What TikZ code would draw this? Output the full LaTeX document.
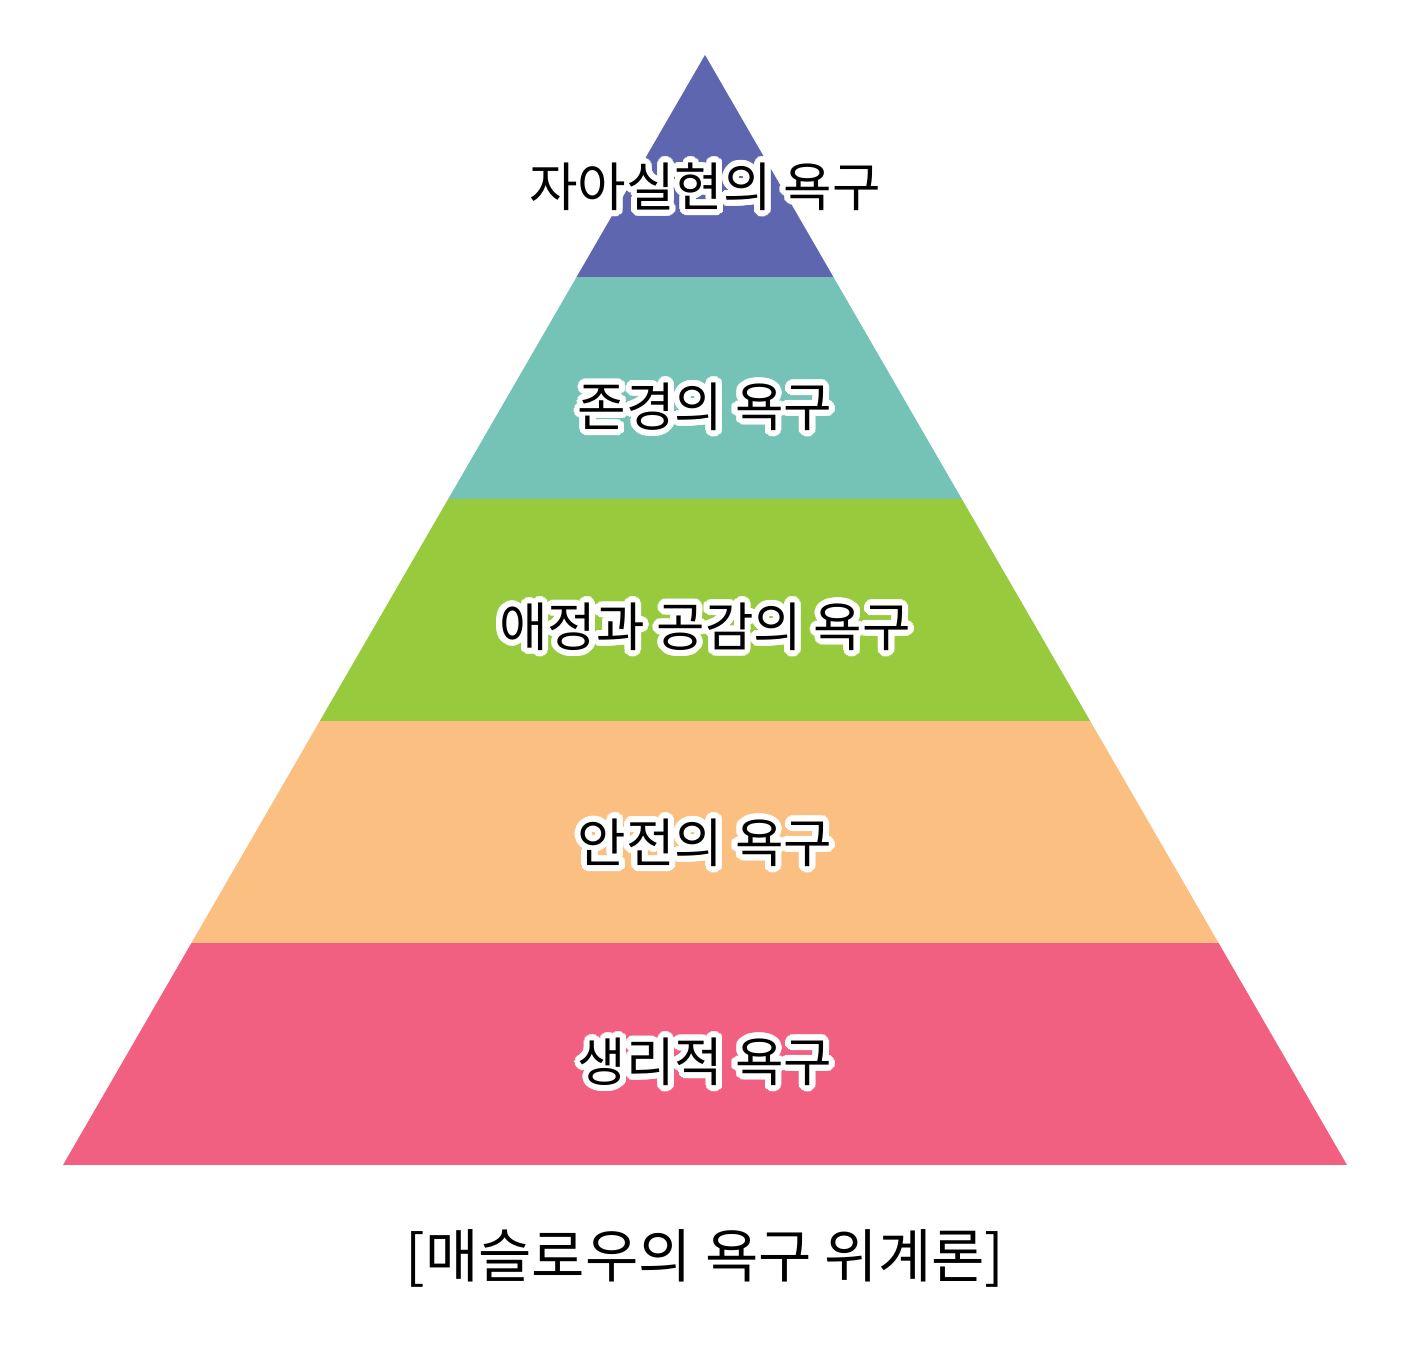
\documentclass[tikz,border=0pt]{standalone}
\usepackage{fontspec}
\setmainfont{Noto Sans CJK KR}
\definecolor{toplevel}{HTML}{5D66AE}
\definecolor{esteem}{HTML}{75C3B7}
\definecolor{belong}{HTML}{97CA3D}
\definecolor{safety}{HTML}{FBBF82}
\definecolor{physio}{HTML}{F15F81}

% label with white halo
\newcommand{\halolabel}[3]{%
  \foreach \a in {0,15,...,345}
    \node[lbl, text=white, shift={(\a:0.12)}] at (#2) {#3};
  \node (#1) [lbl] at (#2) {#3};
}

\begin{document}
\begin{tikzpicture}[
    lbl/.style={font=\fontsize{30}{34}\selectfont, inner sep=0pt},
  ]
  \useasboundingbox (0,0) rectangle (28.2,27);

  \fill[physio] (1.26,3.7) -- (26.94,3.7) -- (24.372,8.14) -- (3.828,8.14) -- cycle;
  \fill[safety] (3.828,8.14) -- (24.372,8.14) -- (21.804,12.58) -- (6.396,12.58) -- cycle;
  \fill[belong] (6.396,12.58) -- (21.804,12.58) -- (19.236,17.02) -- (8.964,17.02) -- cycle;
  \fill[esteem] (8.964,17.02) -- (19.236,17.02) -- (16.668,21.46) -- (11.532,21.46) -- cycle;
  \fill[toplevel] (11.532,21.46) -- (16.668,21.46) -- (14.1,25.9) -- cycle;

  \halolabel{self}{14.1,23.26}{자아실현의 욕구}
  \halolabel{est}{14.1,18.86}{존경의 욕구}
  \halolabel{love}{14.1,14.46}{애정과 공감의 욕구}
  \halolabel{safe}{14.1,10.14}{안전의 욕구}
  \halolabel{phys}{14.1,5.76}{생리적 욕구}

  \node (caption) [lbl, font=\fontsize{33}{38}\selectfont] at (14.1,1.84) {[매슬로우의 욕구 위계론]};
\end{tikzpicture}
\end{document}
